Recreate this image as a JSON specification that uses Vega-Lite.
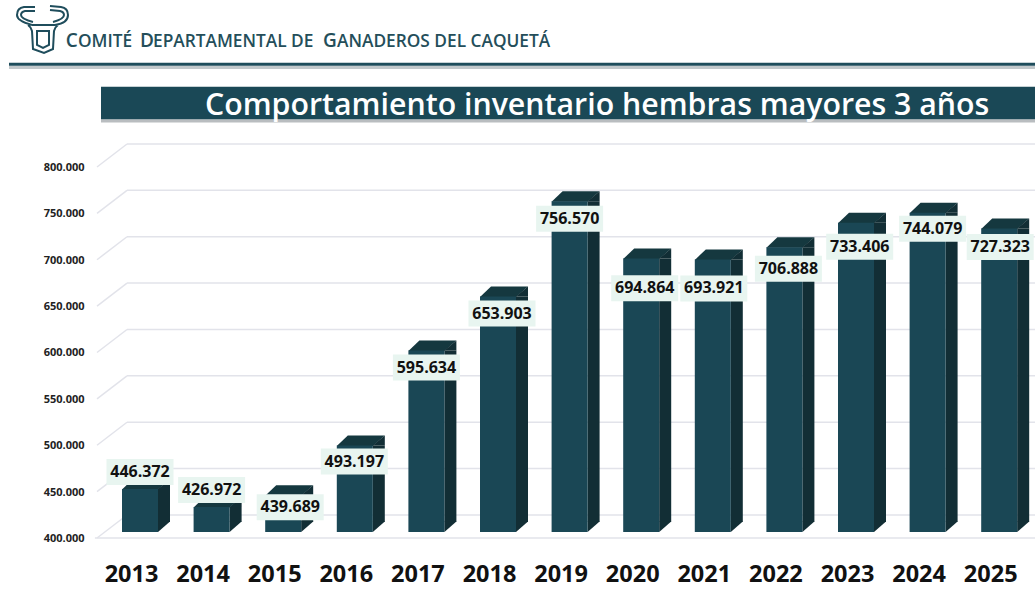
{
"$schema":"https://vega.github.io/schema/vega-lite/v6.json",
"width":1035,"height":589,"padding":0,"autosize":{"type":"none"},
"background":"white",
"config":{"view":{"stroke":null},"locale":{"number":{"decimal":",","thousands":".","grouping":[3],"currency":["$",""]}}},
"title":{"text":"Comportamiento inventario hembras mayores 3 años","anchor":"start","frame":"group","dx":205,"dy":121,"offset":0,"font":"Open Sans","fontSize":30.3,"fontWeight":600,"color":"white"},
"datasets":{
"one":[{"item":"decor"}],
"bars":[{"year":2013,"value":446372},{"year":2014,"value":426972},{"year":2015,"value":439689},{"year":2016,"value":493197},{"year":2017,"value":595634},{"year":2018,"value":653903},{"year":2019,"value":756570},{"year":2020,"value":694864},{"year":2021,"value":693921},{"year":2022,"value":706888},{"year":2023,"value":733406},{"year":2024,"value":744079},{"year":2025,"value":727323}],
"ticks":[{"tick":400000},{"tick":450000},{"tick":500000},{"tick":550000},{"tick":600000},{"tick":650000},{"tick":700000},{"tick":750000},{"tick":800000}]
},
"data":{"name":"bars"},
"layer":[
{"data":{"name":"one"},"mark":{"type":"rect","color":"#8f9ba0","opacity":0.55},"encoding":{"x":{"datum":2011.17039,"type":"quantitative","scale":{"domain":[2011.04469,2025.5],"nice":false,"zero":false},"axis":{"values":[2013,2014,2015,2016,2017,2018,2019,2020,2021,2022,2023,2024,2025],"format":"d","orient":"bottom","offset":-15,"title":null,"domain":false,"ticks":false,"grid":false,"labelPadding":0,"labelOffset":-9,"labelFont":"Open Sans","labelFontSize":23.5,"labelFontWeight":"bold","labelColor":"#111111","labelBaseline":"middle","labelFlush":false,"labelOverlap":false}},"x2":{"datum":2025.5},"y":{"datum":902750,"type":"quantitative","scale":{"domain":[338544,973585],"nice":false,"zero":false},"axis":{"values":[400000,450000,500000,550000,600000,650000,700000,750000,800000],"format":",.0f","orient":"left","offset":-84,"title":null,"domain":false,"ticks":false,"grid":false,"labelPadding":0,"labelOffset":6.5,"labelFont":"Open Sans","labelFontSize":11,"labelFontWeight":"bold","labelColor":"#222222"}},"y2":{"datum":899192}}},
{"data":{"name":"one"},"mark":{"type":"rect","color":"#1f4d5c"},"encoding":{"x":{"datum":2011.17039,"type":"quantitative"},"x2":{"datum":2025.5},"y":{"datum":905984,"type":"quantitative"},"y2":{"datum":902750}}},
{"data":{"name":"one"},"mark":{"type":"rect","color":"#7f868c","opacity":0.55},"encoding":{"x":{"datum":2012.4553,"type":"quantitative"},"x2":{"datum":2025.5},"y":{"datum":844960,"type":"quantitative"},"y2":{"datum":841510}}},
{"data":{"name":"one"},"mark":{"type":"rect","color":"#1a4856"},"encoding":{"x":{"datum":2012.4553,"type":"quantitative"},"x2":{"datum":2025.5},"y":{"datum":880108,"type":"quantitative"},"y2":{"datum":844960}}},
{"data":{"name":"one"},"mark":{"type":"point","shape":"M-8 -22 L-19 -22 Q-26 -21 -26 -14 Q-26 -8 -11 -4 M-8 -18 L-18 -18 Q-22 -17 -22 -14 Q-22 -10 -10 -7 M7 -23 L18 -22 Q25 -21 25 -14 Q25 -6 12 -4 M7 -19 L17 -18 Q21 -17 21 -14 Q21 -10 10 -7 M-11 -4 L12 -4 M-15 -4 Q-12 -2 -11 2 L-10 20 L1 24 L10 20 L11 2 Q12 -2 15 -4 M-6 2 L6 2 L6 16 L0 19 L-6 16 Z","size":4,"filled":false,"stroke":"#1f4d5c","strokeWidth":2,"opacity":1},"encoding":{"x":{"datum":2011.64525,"type":"quantitative"},"y":{"datum":942318,"type":"quantitative"}}},
{"data":{"name":"one"},"mark":{"type":"text","align":"left","baseline":"alphabetic","font":"Open Sans","fontWeight":600,"fontSize":19,"color":"#244e5a","text":"C"},"encoding":{"x":{"datum":2011.96229,"type":"quantitative"},"y":{"datum":923235,"type":"quantitative"}}},
{"data":{"name":"one"},"mark":{"type":"text","align":"left","baseline":"alphabetic","font":"Open Sans","fontWeight":600,"fontSize":17.3,"color":"#244e5a","text":"OMITÉ"},"encoding":{"x":{"datum":2012.13408,"type":"quantitative"},"y":{"datum":923235,"type":"quantitative"}}},
{"data":{"name":"one"},"mark":{"type":"text","align":"left","baseline":"alphabetic","font":"Open Sans","fontWeight":600,"fontSize":19,"color":"#244e5a","text":"D"},"encoding":{"x":{"datum":2013.0,"type":"quantitative"},"y":{"datum":923235,"type":"quantitative"}}},
{"data":{"name":"one"},"mark":{"type":"text","align":"left","baseline":"alphabetic","font":"Open Sans","fontWeight":600,"fontSize":17.3,"color":"#244e5a","text":"EPARTAMENTAL DE"},"encoding":{"x":{"datum":2013.18156,"type":"quantitative"},"y":{"datum":923235,"type":"quantitative"}}},
{"data":{"name":"one"},"mark":{"type":"text","align":"left","baseline":"alphabetic","font":"Open Sans","fontWeight":600,"fontSize":19,"color":"#244e5a","text":"G"},"encoding":{"x":{"datum":2015.55581,"type":"quantitative"},"y":{"datum":923235,"type":"quantitative"}}},
{"data":{"name":"one"},"mark":{"type":"text","align":"left","baseline":"alphabetic","font":"Open Sans","fontWeight":600,"fontSize":17.3,"color":"#244e5a","text":"ANADEROS DEL CAQUETÁ"},"encoding":{"x":{"datum":2015.75134,"type":"quantitative"},"y":{"datum":923235,"type":"quantitative"}}},
{"data":{"name":"ticks"},"mark":{"type":"rule","color":"#e2e3ea","strokeWidth":1.5,"yOffset":-17},"encoding":{"x":{"datum":2012.81843,"type":"quantitative"},"x2":{"datum":2025.5},"y":{"field":"tick","type":"quantitative"}}},
{"data":{"name":"ticks"},"mark":{"type":"point","shape":"M0 0 L-30 23","size":4,"filled":false,"stroke":"#e2e3ea","strokeWidth":1.5,"opacity":1,"yOffset":-17},"encoding":{"x":{"datum":2012.81843,"type":"quantitative"},"y":{"field":"tick","type":"quantitative"}}},
{"data":{"name":"one"},"mark":{"type":"rule","color":"#e2e3ea","strokeWidth":1.5,"yOffset":6},"encoding":{"x":{"datum":2012.37,"type":"quantitative"},"x2":{"datum":2025.5},"y":{"datum":400000,"type":"quantitative"}}},
{"mark":{"type":"point","shape":"M-18 0.5 L18 0.5 L30 -10 L-7 -10 Z","size":4,"filled":true,"color":"#15383f","opacity":1,"strokeWidth":0},"encoding":{"x":{"field":"year","type":"quantitative"},"y":{"field":"value","type":"quantitative"}}},
{"mark":{"type":"rect","color":"#122e35","xOffset":18,"x2Offset":30,"y2Offset":-10},"encoding":{"x":{"field":"year","type":"quantitative"},"x2":{"field":"year"},"y":{"field":"value","type":"quantitative"},"y2":{"datum":400000}}},
{"mark":{"type":"point","shape":"M18 0 L30 -10 L30 0 Z","size":4,"filled":true,"color":"#122e35","opacity":1,"strokeWidth":0},"encoding":{"x":{"field":"year","type":"quantitative"},"y":{"field":"value","type":"quantitative"}}},
{"mark":{"type":"point","shape":"M18 -10.5 L30 -10.5 L18 0 Z","size":4,"filled":true,"color":"#122e35","opacity":1,"strokeWidth":0},"encoding":{"x":{"field":"year","type":"quantitative"},"y":{"datum":400000,"type":"quantitative"}}},
{"mark":{"type":"rect","color":"#1a4755","xOffset":-18,"x2Offset":18},"encoding":{"x":{"field":"year","type":"quantitative"},"x2":{"field":"year"},"y":{"field":"value","type":"quantitative"},"y2":{"datum":400000}}},
{"transform":[{"filter":{"field":"year","equal":2013}}],"encoding":{"x":{"field":"year","type":"quantitative"},"y":{"field":"value","type":"quantitative"}},"layer":[{"mark":{"type":"point","shape":"M-33.5 -13 L33.5 -13 L33.5 13 L-33.5 13 Z","size":4,"filled":true,"color":"#e8f5f0","opacity":1,"strokeWidth":0,"xOffset":0,"yOffset":-17}},{"mark":{"type":"text","font":"Open Sans","fontWeight":"bold","fontSize":16,"color":"#111111","baseline":"middle","align":"center","xOffset":0,"yOffset":-17},"encoding":{"text":{"field":"value","type":"quantitative","format":",.0f"}}}]},
{"transform":[{"filter":{"field":"year","equal":2014}}],"encoding":{"x":{"field":"year","type":"quantitative"},"y":{"field":"value","type":"quantitative"}},"layer":[{"mark":{"type":"point","shape":"M-33.5 -13 L33.5 -13 L33.5 13 L-33.5 13 Z","size":4,"filled":true,"color":"#e8f5f0","opacity":1,"strokeWidth":0,"xOffset":0,"yOffset":-17}},{"mark":{"type":"text","font":"Open Sans","fontWeight":"bold","fontSize":16,"color":"#111111","baseline":"middle","align":"center","xOffset":0,"yOffset":-17},"encoding":{"text":{"field":"value","type":"quantitative","format":",.0f"}}}]},
{"transform":[{"filter":{"field":"year","equal":2015}}],"encoding":{"x":{"field":"year","type":"quantitative"},"y":{"field":"value","type":"quantitative"}},"layer":[{"mark":{"type":"point","shape":"M-33.5 -13 L33.5 -13 L33.5 13 L-33.5 13 Z","size":4,"filled":true,"color":"#e8f5f0","opacity":1,"strokeWidth":0,"xOffset":7,"yOffset":12}},{"mark":{"type":"text","font":"Open Sans","fontWeight":"bold","fontSize":16,"color":"#111111","baseline":"middle","align":"center","xOffset":7,"yOffset":12},"encoding":{"text":{"field":"value","type":"quantitative","format":",.0f"}}}]},
{"transform":[{"filter":{"field":"year","equal":2016}}],"encoding":{"x":{"field":"year","type":"quantitative"},"y":{"field":"value","type":"quantitative"}},"layer":[{"mark":{"type":"point","shape":"M-33.5 -13 L33.5 -13 L33.5 13 L-33.5 13 Z","size":4,"filled":true,"color":"#e8f5f0","opacity":1,"strokeWidth":0,"xOffset":-0.5,"yOffset":16}},{"mark":{"type":"text","font":"Open Sans","fontWeight":"bold","fontSize":16,"color":"#111111","baseline":"middle","align":"center","xOffset":-0.5,"yOffset":16},"encoding":{"text":{"field":"value","type":"quantitative","format":",.0f"}}}]},
{"transform":[{"filter":{"field":"year","equal":2017}}],"encoding":{"x":{"field":"year","type":"quantitative"},"y":{"field":"value","type":"quantitative"}},"layer":[{"mark":{"type":"point","shape":"M-33.5 -13 L33.5 -13 L33.5 13 L-33.5 13 Z","size":4,"filled":true,"color":"#e8f5f0","opacity":1,"strokeWidth":0,"xOffset":0,"yOffset":17}},{"mark":{"type":"text","font":"Open Sans","fontWeight":"bold","fontSize":16,"color":"#111111","baseline":"middle","align":"center","xOffset":0,"yOffset":17},"encoding":{"text":{"field":"value","type":"quantitative","format":",.0f"}}}]},
{"transform":[{"filter":{"field":"year","equal":2018}}],"encoding":{"x":{"field":"year","type":"quantitative"},"y":{"field":"value","type":"quantitative"}},"layer":[{"mark":{"type":"point","shape":"M-33.5 -13 L33.5 -13 L33.5 13 L-33.5 13 Z","size":4,"filled":true,"color":"#e8f5f0","opacity":1,"strokeWidth":0,"xOffset":4,"yOffset":17}},{"mark":{"type":"text","font":"Open Sans","fontWeight":"bold","fontSize":16,"color":"#111111","baseline":"middle","align":"center","xOffset":4,"yOffset":17},"encoding":{"text":{"field":"value","type":"quantitative","format":",.0f"}}}]},
{"transform":[{"filter":{"field":"year","equal":2019}}],"encoding":{"x":{"field":"year","type":"quantitative"},"y":{"field":"value","type":"quantitative"}},"layer":[{"mark":{"type":"point","shape":"M-33.5 -13 L33.5 -13 L33.5 13 L-33.5 13 Z","size":4,"filled":true,"color":"#e8f5f0","opacity":1,"strokeWidth":0,"xOffset":0,"yOffset":17.5}},{"mark":{"type":"text","font":"Open Sans","fontWeight":"bold","fontSize":16,"color":"#111111","baseline":"middle","align":"center","xOffset":0,"yOffset":17.5},"encoding":{"text":{"field":"value","type":"quantitative","format":",.0f"}}}]},
{"transform":[{"filter":{"field":"year","equal":2020}}],"encoding":{"x":{"field":"year","type":"quantitative"},"y":{"field":"value","type":"quantitative"}},"layer":[{"mark":{"type":"point","shape":"M-33.5 -13 L33.5 -13 L33.5 13 L-33.5 13 Z","size":4,"filled":true,"color":"#e8f5f0","opacity":1,"strokeWidth":0,"xOffset":3.5,"yOffset":29.7}},{"mark":{"type":"text","font":"Open Sans","fontWeight":"bold","fontSize":16,"color":"#111111","baseline":"middle","align":"center","xOffset":3.5,"yOffset":29.7},"encoding":{"text":{"field":"value","type":"quantitative","format":",.0f"}}}]},
{"transform":[{"filter":{"field":"year","equal":2021}}],"encoding":{"x":{"field":"year","type":"quantitative"},"y":{"field":"value","type":"quantitative"}},"layer":[{"mark":{"type":"point","shape":"M-33.5 -13 L33.5 -13 L33.5 13 L-33.5 13 Z","size":4,"filled":true,"color":"#e8f5f0","opacity":1,"strokeWidth":0,"xOffset":1,"yOffset":29}},{"mark":{"type":"text","font":"Open Sans","fontWeight":"bold","fontSize":16,"color":"#111111","baseline":"middle","align":"center","xOffset":1,"yOffset":29},"encoding":{"text":{"field":"value","type":"quantitative","format":",.0f"}}}]},
{"transform":[{"filter":{"field":"year","equal":2022}}],"encoding":{"x":{"field":"year","type":"quantitative"},"y":{"field":"value","type":"quantitative"}},"layer":[{"mark":{"type":"point","shape":"M-33.5 -13 L33.5 -13 L33.5 13 L-33.5 13 Z","size":4,"filled":true,"color":"#e8f5f0","opacity":1,"strokeWidth":0,"xOffset":4,"yOffset":21.4}},{"mark":{"type":"text","font":"Open Sans","fontWeight":"bold","fontSize":16,"color":"#111111","baseline":"middle","align":"center","xOffset":4,"yOffset":21.4},"encoding":{"text":{"field":"value","type":"quantitative","format":",.0f"}}}]},
{"transform":[{"filter":{"field":"year","equal":2023}}],"encoding":{"x":{"field":"year","type":"quantitative"},"y":{"field":"value","type":"quantitative"}},"layer":[{"mark":{"type":"point","shape":"M-33.5 -13 L33.5 -13 L33.5 13 L-33.5 13 Z","size":4,"filled":true,"color":"#e8f5f0","opacity":1,"strokeWidth":0,"xOffset":3.7,"yOffset":24}},{"mark":{"type":"text","font":"Open Sans","fontWeight":"bold","fontSize":16,"color":"#111111","baseline":"middle","align":"center","xOffset":3.7,"yOffset":24},"encoding":{"text":{"field":"value","type":"quantitative","format":",.0f"}}}]},
{"transform":[{"filter":{"field":"year","equal":2024}}],"encoding":{"x":{"field":"year","type":"quantitative"},"y":{"field":"value","type":"quantitative"}},"layer":[{"mark":{"type":"point","shape":"M-33.5 -13 L33.5 -13 L33.5 13 L-33.5 13 Z","size":4,"filled":true,"color":"#e8f5f0","opacity":1,"strokeWidth":0,"xOffset":5,"yOffset":16}},{"mark":{"type":"text","font":"Open Sans","fontWeight":"bold","fontSize":16,"color":"#111111","baseline":"middle","align":"center","xOffset":5,"yOffset":16},"encoding":{"text":{"field":"value","type":"quantitative","format":",.0f"}}}]},
{"transform":[{"filter":{"field":"year","equal":2025}}],"encoding":{"x":{"field":"year","type":"quantitative"},"y":{"field":"value","type":"quantitative"}},"layer":[{"mark":{"type":"point","shape":"M-33.5 -13 L33.5 -13 L33.5 13 L-33.5 13 Z","size":4,"filled":true,"color":"#e8f5f0","opacity":1,"strokeWidth":0,"xOffset":1,"yOffset":18.6}},{"mark":{"type":"text","font":"Open Sans","fontWeight":"bold","fontSize":16,"color":"#111111","baseline":"middle","align":"center","xOffset":1,"yOffset":18.6},"encoding":{"text":{"field":"value","type":"quantitative","format":",.0f"}}}]}
]
}
